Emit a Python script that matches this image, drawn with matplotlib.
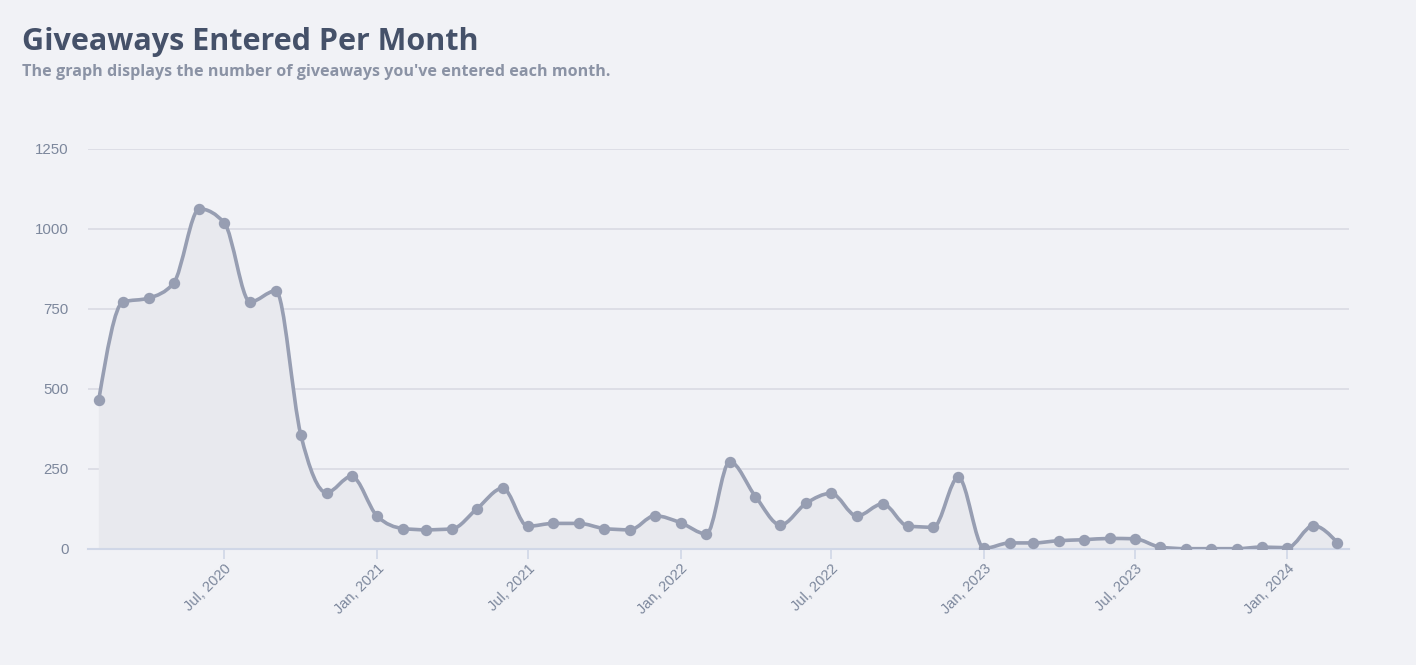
import numpy as np
import matplotlib
matplotlib.use("Agg")
import matplotlib.pyplot as plt
import matplotlib.dates as mdates
from matplotlib.path import Path
from matplotlib.patches import PathPatch
import datetime as dt

# ---- data ----
start_year, start_month = 2020, 2
values = [467, 772, 784, 831, 1063, 1019, 772, 807, 357, 176, 227,
          102, 64, 60, 63, 126, 190, 71, 80, 80, 64, 60, 104,
          82, 47, 273, 164, 75, 143, 174, 103, 141, 72, 68, 224,
          2, 19, 19, 26, 29, 33, 32, 6, 1, 1, 1, 6,
          4, 73, 20]
months = []
y, m = start_year, start_month
for _ in values:
    months.append(dt.date(y, m, 1))
    m += 1
    if m > 12:
        m = 1
        y += 1

title = "Giveaways Entered Per Month"
subtitle = "The graph displays the number of giveaways you've entered each month."
y_ticks = [0, 250, 500, 750, 1000, 1250]

# ---- colours ----
BG = "#f1f2f6"
FILL = "#e8e9ee"
LINE = "#979eb2"
GRID = "#d9dbe3"
AXIS = "#d0d7e7"
TICKTXT = "#7c879c"
TITLE_C = "#455169"
SUB_C = "#8b93a5"

xs = mdates.date2num(months)
ys = np.array(values, dtype=float)

def monotone_tangents(x, y):
    n = len(x)
    h = np.diff(x)
    s = np.diff(y) / h
    t = np.zeros(n)
    for i in range(1, n - 1):
        s0, s1 = s[i - 1], s[i]
        h0, h1 = h[i - 1], h[i]
        p = (s0 * h1 + s1 * h0) / (h0 + h1)
        t[i] = (np.sign(s0) + np.sign(s1)) * min(abs(s0), abs(s1), 0.5 * abs(p))
    t[0] = (3 * s[0] - t[1]) / 2
    t[-1] = (3 * s[-1] - t[-2]) / 2
    return t

t = monotone_tangents(xs, ys)
verts = [(xs[0], ys[0])]
codes = [Path.MOVETO]
for i in range(len(xs) - 1):
    dx = (xs[i + 1] - xs[i]) / 3
    verts += [(xs[i] + dx, ys[i] + dx * t[i]),
              (xs[i + 1] - dx, ys[i + 1] - dx * t[i + 1]),
              (xs[i + 1], ys[i + 1])]
    codes += [Path.CURVE4] * 3
line_path = Path(verts, codes)
fill_verts = verts + [(xs[-1], 0), (xs[0], 0), (xs[0], ys[0])]
fill_codes = codes + [Path.LINETO, Path.LINETO, Path.CLOSEPOLY]
fill_path = Path(fill_verts, fill_codes)

fig = plt.figure(figsize=(14.16, 6.65), dpi=100, facecolor=BG)
ax = fig.add_axes([88 / 1416, 1 - 549 / 665, (1349 - 88) / 1416, (549 - 149) / 665])
ax.set_facecolor(BG)

ax.add_patch(PathPatch(fill_path, facecolor=FILL, edgecolor="none", zorder=1))
ax.add_patch(PathPatch(line_path, facecolor="none", edgecolor=LINE, lw=2.6,
                       capstyle="round", joinstyle="round", zorder=3))
ax.plot(xs, ys, linestyle="none", marker="o", ms=7.2, color=LINE, zorder=4)

ax.set_xlim(mdates.date2num(dt.date(2020, 1, 19)), mdates.date2num(dt.date(2024, 3, 15)))
ax.set_ylim(0, 1250)
ax.set_yticks(y_ticks)
ax.yaxis.grid(True, color=GRID, lw=1.2)
ax.set_axisbelow(True)
for sp in ["top", "right", "left"]:
    ax.spines[sp].set_visible(False)
ax.spines["bottom"].set_color(AXIS)
ax.spines["bottom"].set_linewidth(1.5)
ax.spines["bottom"].set_zorder(2)

ax.xaxis.set_major_locator(mdates.MonthLocator(bymonth=[1, 7]))
ax.xaxis.set_major_formatter(mdates.DateFormatter("%b, %Y"))
ax.tick_params(axis="x", length=7, width=1.2, color=AXIS, labelcolor=TICKTXT,
               labelsize=10.5, pad=2)
ax.tick_params(axis="y", length=0, labelcolor=TICKTXT, labelsize=10.8, pad=14)
for lbl in ax.get_xticklabels():
    lbl.set_rotation(45)
    lbl.set_ha("right")
    lbl.set_rotation_mode("anchor")
    lbl.set_family(["Liberation Sans", "DejaVu Sans"])
for lbl in ax.get_yticklabels():
    lbl.set_family(["Liberation Sans", "DejaVu Sans"])

fig.text(22 / 1416, 1 - 50 / 665, title, fontsize=22, fontweight="bold",
         color=TITLE_C, family=["Open Sans", "DejaVu Sans"], ha="left", va="baseline")
fig.text(22 / 1416, 1 - 76 / 665, subtitle, fontsize=11.6, fontweight="bold",
         color=SUB_C, family=["Open Sans", "DejaVu Sans"], ha="left", va="baseline")

fig.savefig("out.png", dpi=100, facecolor=BG)
